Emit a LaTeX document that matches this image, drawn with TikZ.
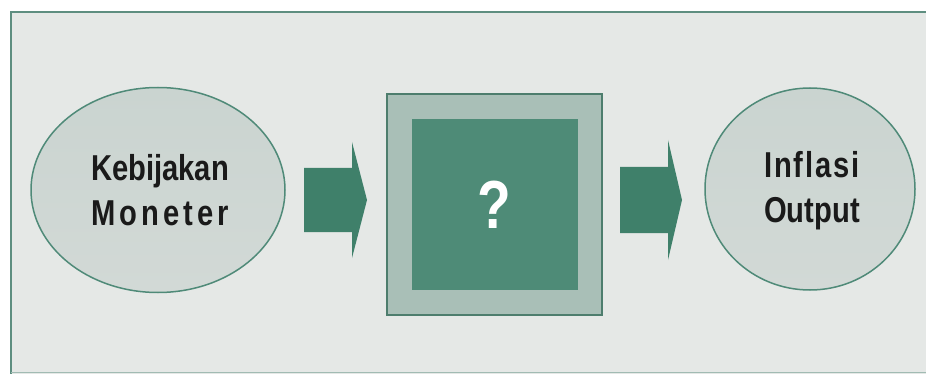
\documentclass[tikz,border=0pt]{standalone}
\usepackage{fontspec}
\setmainfont{Liberation Sans}
\newfontfamily\labfont[FakeStretch=0.81]{Liberation Sans}
\usetikzlibrary{shapes.geometric}
\definecolor{bgc}{HTML}{E5E8E6}
\definecolor{framec}{HTML}{5E8E80}
\definecolor{arrowc}{HTML}{3F806A}
\definecolor{ellc}{HTML}{4F8A78}
\definecolor{elltop}{HTML}{CAD4D0}
\definecolor{ellmid}{HTML}{EEF0EE}
\definecolor{ellbot}{HTML}{D2D9D6}
\definecolor{boxedge}{HTML}{4D7D6D}
\definecolor{boxouter}{HTML}{A9BFB7}
\definecolor{boxinner}{HTML}{4E8B77}
\definecolor{txtc}{HTML}{1A1A1A}
\newlength\labw
\tikzset{
  oval/.style={ellipse, draw=ellc, line width=1.5pt, inner sep=0pt,
    top color=elltop, middle color=ellmid, bottom color=ellbot},
  labtext/.style={text=txtc, align=center, font=\labfont\bfseries\fontsize{36}{45}\selectfont},
  blockarrow/.style={fill=arrowc, draw=none}
}
\begin{document}
\begin{tikzpicture}[x=1pt,y=-1pt]
\useasboundingbox (0,0) rectangle (926,374);
\fill[white] (0,0) rectangle (926,374);
\fill[bgc] (11,12) rectangle (926,374);
\draw[framec, line width=2pt] (11,374) -- (11,12) -- (926,12);
\draw[framec!50!bgc, line width=1pt] (11,372) -- (926,372);

\node[oval, minimum width=254pt, minimum height=205pt] (pol) at (158,190) {};
\node[labtext] (poltext) at (160,190) {Kebijakan\\\settowidth\labw{Kebijakan}\makebox[\labw][s]{M\hfil o\hfil n\hfil e\hfil t\hfil e\hfil r}};

\node[draw=boxedge, fill=boxouter, line width=1.5pt, minimum width=215pt, minimum height=221pt, inner sep=0pt] (box) at (494.5,204.5) {};
\node[fill=boxinner, minimum width=166pt, minimum height=171pt, inner sep=0pt, text=white,
  font=\labfont\bfseries\fontsize{68}{68}\selectfont] (q) at (box.center) {?};

\node[oval, minimum width=210pt, minimum height=202pt] (out) at (810,189) {};
\node[labtext] (outtext) at (812,191) {\settowidth\labw{Output}\makebox[\labw][s]{I\hfil n\hfil f\hfil l\hfil a\hfil s\hfil i}\\Output};

\coordinate (a1) at (304,199);
\coordinate (a2) at (620,198.5);
\fill[blockarrow] (a1) ++(0,-31) -- ++(48,0) -- ++(0,-26) -- ++(15,58) -- ++(-15,58) -- ++(0,-26) -- ++(-48,0) -- cycle;
\fill[blockarrow] (a2) ++(0,-31.5) -- ++(48,0) -- ++(0,-27) -- ++(14,60) -- ++(-14,60) -- ++(0,-27) -- ++(-48,0) -- cycle;
\end{tikzpicture}
\end{document}
